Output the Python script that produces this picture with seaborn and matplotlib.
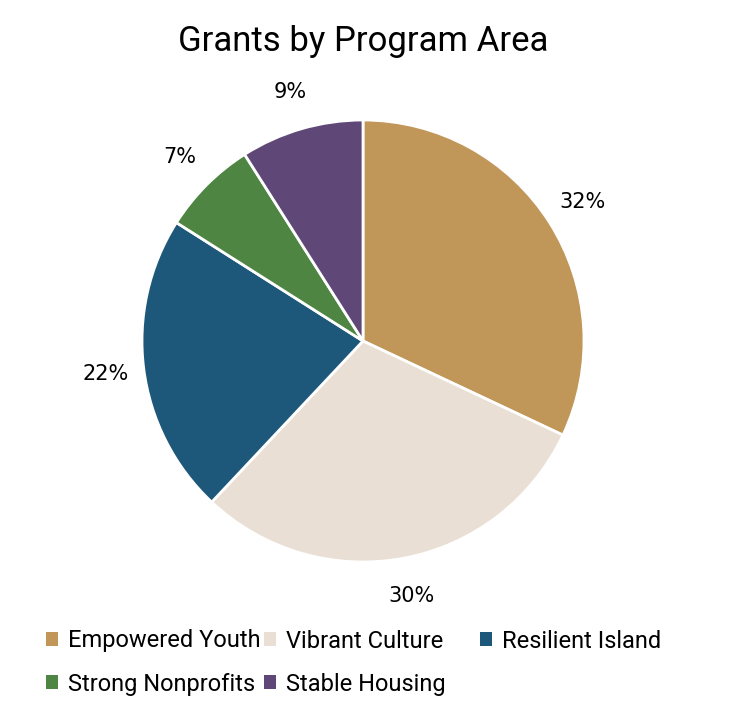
import matplotlib
matplotlib.use("Agg")
import matplotlib.pyplot as plt
from matplotlib.patches import Patch
import seaborn as sns

categories = ["Empowered Youth", "Vibrant Culture", "Resilient Island", "Strong Nonprofits", "Stable Housing"]
values = [32, 30, 22, 7, 9]
colors = ["#C19659", "#E9DFD5", "#1D577A", "#4E8543", "#5F4877"]
title = "Grants by Program Area"

sns.set_theme(style="white")
plt.rcParams['font.family'] = ['Roboto', 'DejaVu Sans']
plt.rcParams['text.color'] = 'black'

fig = plt.figure(figsize=(7.29, 7.11), dpi=100)
ax = fig.add_axes([142/729, (711-562)/711, 442/729, 442/711])
wedges, texts, autotexts = ax.pie(
    values, colors=colors, startangle=90, counterclock=False,
    autopct=lambda p: f"{p:.0f}%", pctdistance=1.175,
    wedgeprops=dict(edgecolor="white", linewidth=2),
    textprops=dict(fontsize=15, color="black", family=['DejaVu Sans']),
)
ax.set_xlim(-1, 1)
ax.set_ylim(-1, 1)
ax.set_aspect("equal")
ax.axis("off")

fig.text(363/729, 1-42/711, title, ha="center", va="center", fontsize=25, color="black")

# legend entries, one per position
pos = [(46, 641), (264, 641), (480, 641), (46, 684), (264, 684)]
for cat, col, (x, y) in zip(categories, colors, pos):
    leg = fig.legend(handles=[Patch(facecolor=col, edgecolor="none", label=cat)],
                     loc="center left", bbox_to_anchor=(x/729, 1-y/711),
                     frameon=False, fontsize=17, handlelength=0.5, handleheight=0.5,
                     handletextpad=0.45, borderpad=0, borderaxespad=0)
    for t in leg.get_texts():
        t.set_color("black")

fig.savefig("out.png", dpi=100)
